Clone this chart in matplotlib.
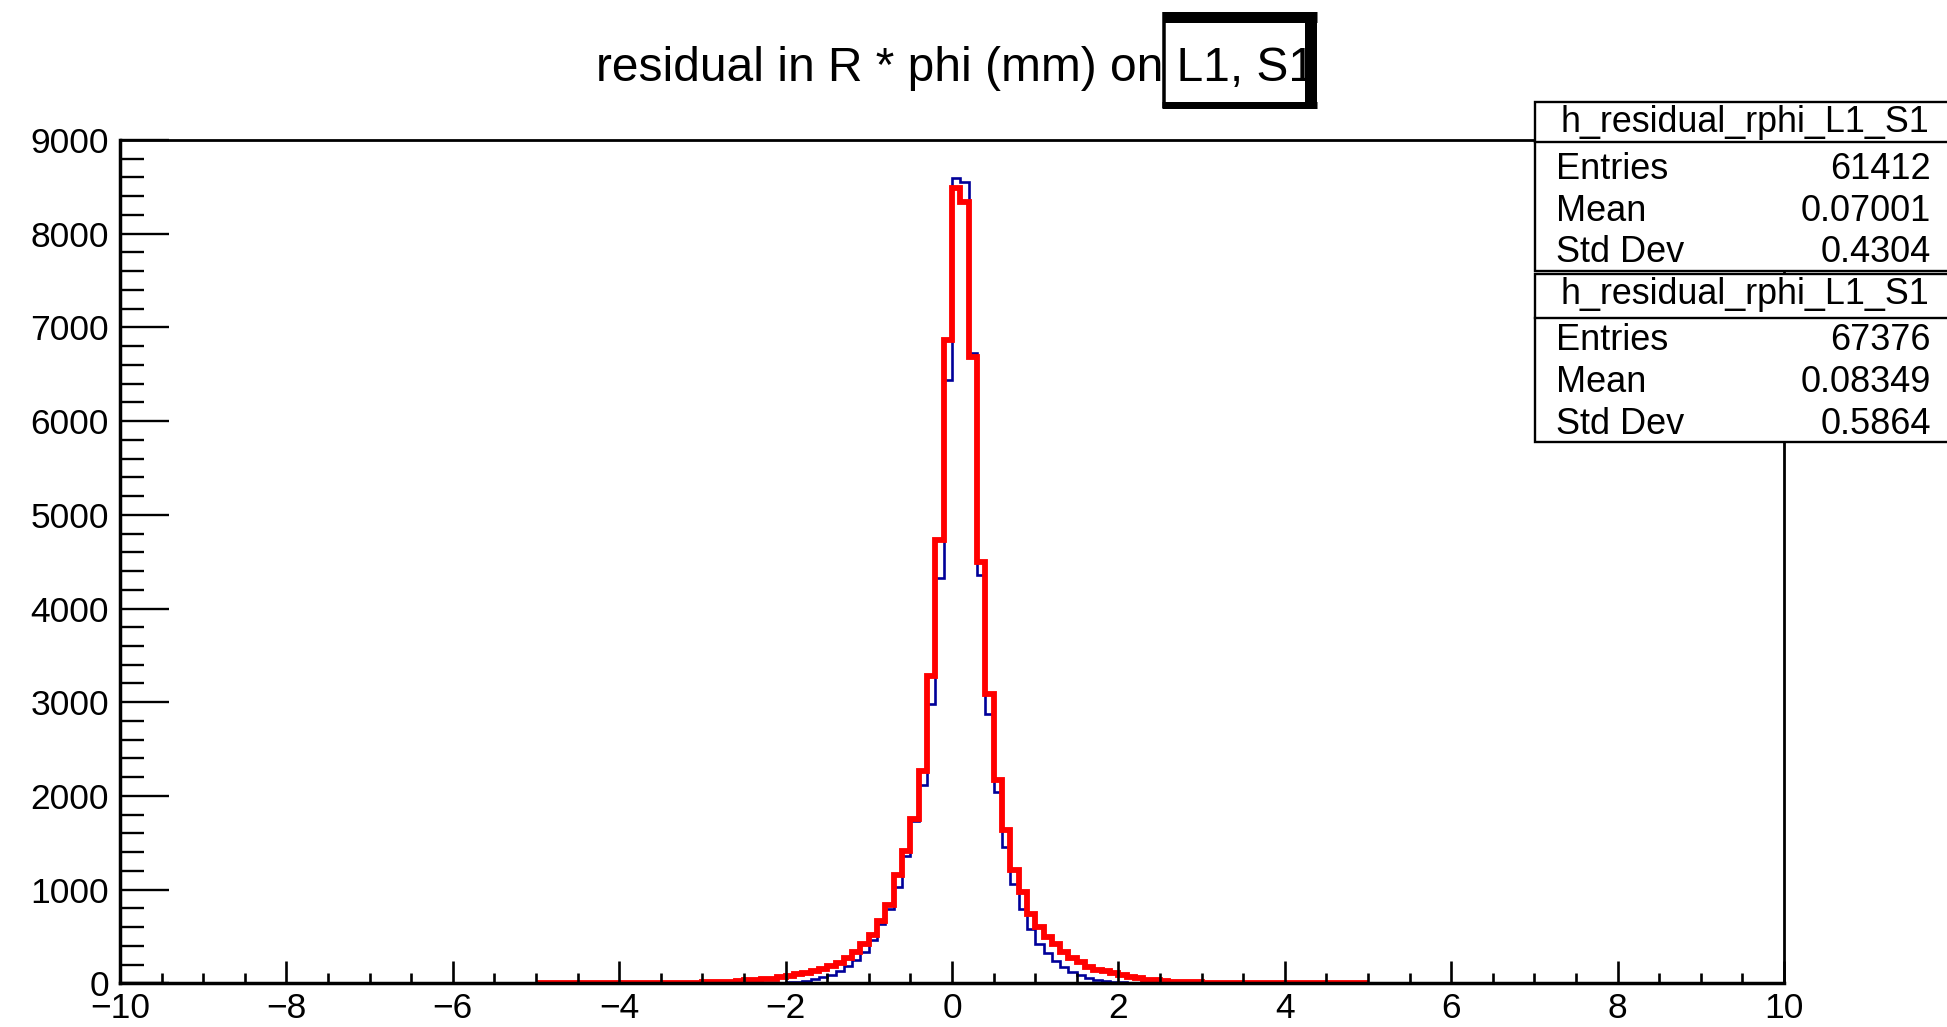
import numpy as np
import matplotlib
matplotlib.use("Agg")
import matplotlib.pyplot as plt
from matplotlib.lines import Line2D
from matplotlib.patches import Rectangle
from matplotlib.ticker import FixedLocator, MultipleLocator

# ---------------- data ----------------
bin_low, bin_high, bin_width = -5.0, 5.0, 0.1

# counts per 0.1-wide bin, from -5.0 to 5.0 (left edges -5.0, -4.9, ..., 4.9)
blue_counts = [
    0, 0, 0, 0, 0, 0, 0, 0, 0, 0,          # -5.0 .. -4.1
    0, 0, 0, 0, 0, 0, 0, 0, 0, 0,          # -4.0 .. -3.1
    1, 1, 1, 1, 2, 2, 3, 4, 5, 7,          # -3.0 .. -2.1
    11, 18, 28, 42, 62, 90, 130, 180, 245, 330,   # -2.0 .. -1.1
    460, 633, 793, 1031, 1362, 1730, 2120, 2982, 4330, 6438,  # -1.0 .. -0.1
    8591, 8555, 6722, 4356, 2875, 2039, 1452, 1060, 793, 580,  # 0.0 .. 0.9
    420, 320, 235, 170, 120, 85, 58, 38, 24, 15,   # 1.0 .. 1.9
    9, 6, 4, 3, 2, 2, 1, 1, 1, 0,          # 2.0 .. 2.9
    0, 0, 0, 0, 0, 0, 0, 0, 0, 0,          # 3.0 .. 3.9
    0, 0, 0, 0, 0, 0, 0, 0, 0, 0,          # 4.0 .. 4.9
]
red_counts = [
    0, 0, 0, 1, 0, 1, 1, 1, 1, 2,          # -5.0 .. -4.1
    1, 2, 2, 3, 3, 4, 4, 5, 6, 8,          # -4.0 .. -3.1
    10, 12, 16, 19, 23, 30, 37, 44, 51, 62,  # -3.0 .. -2.1
    78, 96, 112, 132, 155, 185, 220, 272, 330, 420,  # -2.0 .. -1.1
    520, 668, 836, 1156, 1412, 1754, 2270, 3284, 4730, 6865,  # -1.0 .. -0.1
    8487, 8341, 6687, 4498, 3089, 2170, 1640, 1213, 971, 740,  # 0.0 .. 0.9
    598, 490, 417, 329, 275, 222, 170, 145, 130, 112,  # 1.0 .. 1.9
    88, 65, 52, 40, 30, 22, 18, 15, 12, 10,  # 2.0 .. 2.9
    8, 7, 6, 5, 4, 3, 3, 2, 2, 2,          # 3.0 .. 3.9
    1, 1, 1, 1, 1, 0, 1, 0, 0, 0,          # 4.0 .. 4.9
]

x_ticks = [-10, -8, -6, -4, -2, 0, 2, 4, 6, 8, 10]
y_ticks = [0, 1000, 2000, 3000, 4000, 5000, 6000, 7000, 8000, 9000]

title_main = "residual in R * phi (mm) on L1, S1"
hist_name = "h_residual_rphi_L1_S1"
stats_blue = [("Entries", "61412"), ("Mean", "0.07001"), ("Std Dev", "0.4304")]
stats_red = [("Entries", "67376"), ("Mean", "0.08349"), ("Std Dev", "0.5864")]

# ---------------- figure ----------------
W, H = 1947, 1027
plt.rcParams['font.family'] = ['Liberation Sans', 'DejaVu Sans']
fig = plt.figure(figsize=(W / 100, H / 100), dpi=100)
fig.patch.set_facecolor('white')

def fx(px):
    return px / W

def fy(py):
    return 1 - py / H

ax_left, ax_right, ax_top, ax_bottom = 120, 1784, 140, 983.3
ax = fig.add_axes([fx(ax_left), fy(ax_bottom), (ax_right - ax_left) / W, (ax_bottom - ax_top) / H])

edges = np.linspace(bin_low, bin_high, len(blue_counts) + 1)
ax.stairs(blue_counts, edges, color='#000099', linewidth=1.9, baseline=0)
ax.stairs(red_counts, edges, color='#ff0000', linewidth=4.2, baseline=0)

ax.set_xlim(-10, 10)
ax.set_ylim(0, 9000)
ax.xaxis.set_major_locator(FixedLocator(x_ticks))
ax.set_xticklabels([str(v).replace('-', '\u2212') for v in x_ticks])
ax.xaxis.set_minor_locator(MultipleLocator(0.5))
ax.yaxis.set_major_locator(FixedLocator(y_ticks))
ax.set_yticklabels([str(v) for v in y_ticks])
ax.yaxis.set_minor_locator(MultipleLocator(200))

ax.tick_params(axis='x', which='major', direction='in', length=16, width=1.9,
               labelsize=25.5, pad=6, top=False)
ax.tick_params(axis='x', which='minor', direction='in', length=7.5, width=1.9, top=False)
ax.tick_params(axis='y', which='major', direction='in', length=35, width=1.7,
               labelsize=25.5, pad=8, right=False)
ax.tick_params(axis='y', which='minor', direction='in', length=17, width=1.7, right=False)
for s in ax.spines.values():
    s.set_linewidth(2.0)
    s.set_color('black')
ax.spines['left'].set_linewidth(2.5)
ax.spines['bottom'].set_linewidth(2.5)

# ---------------- title ----------------
fig.text(fx(955), fy(81), title_main, ha='center', va='baseline', fontsize=34.5)

# hand-drawn box around "L1, S1"
def fline(x0, y0, x1, y1, lw_px):
    fig.add_artist(Line2D([fx(x0), fx(x1)], [fy(y0), fy(y1)], color='black',
                          linewidth=lw_px * 0.72, solid_capstyle='butt',
                          transform=fig.transFigure))

fline(1163, 17, 1317, 17, 11)
fline(1311, 12, 1311, 109, 12)
fline(1162, 105, 1317, 105, 7)
fline(1164, 12, 1164, 108, 3.5)

# ---------------- stats boxes ----------------
def stats_box(top, sep, bottom, header_base, rows_base, rows):
    fig.add_artist(Rectangle((fx(1535), fy(bottom)), fx(1960) - fx(1535), fy(top) - fy(bottom),
                             transform=fig.transFigure, facecolor='white',
                             edgecolor='black', linewidth=1.7, zorder=5))
    fig.add_artist(Line2D([fx(1535), fx(1960)], [fy(sep), fy(sep)], color='black',
                          linewidth=1.7, transform=fig.transFigure, zorder=6))
    fig.text(fx(1745), fy(header_base), hist_name, ha='center', va='baseline',
             fontsize=25.8, zorder=7)
    for (lab, val), yb in zip(rows, rows_base):
        fig.text(fx(1556), fy(yb), lab, ha='left', va='baseline', fontsize=26, zorder=7)
        fig.text(fx(1931), fy(yb), val, ha='right', va='baseline', fontsize=26, zorder=7)

stats_box(101.7, 142.3, 270.5, 132, [179, 221, 262.5], stats_blue)
stats_box(273.5, 317.7, 442, 304, [350.5, 392.5, 434], stats_red)

fig.savefig("out.png", dpi=100, facecolor='white')
